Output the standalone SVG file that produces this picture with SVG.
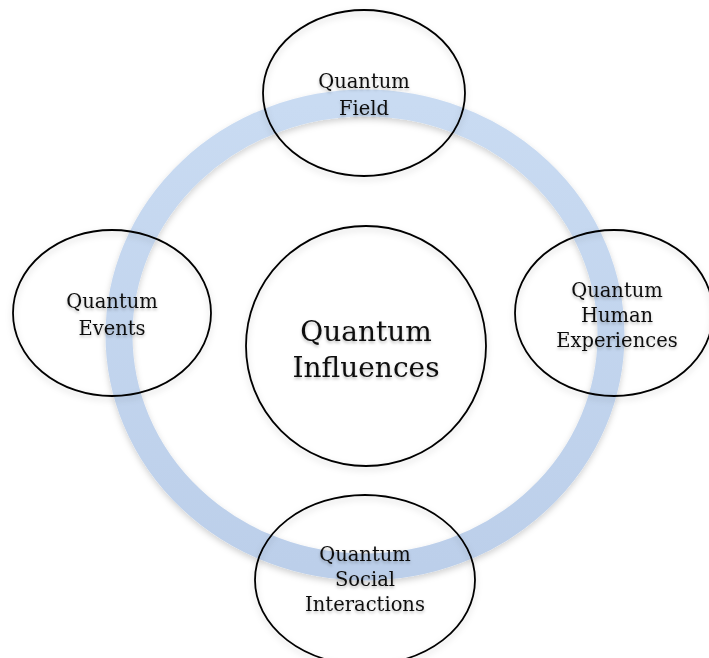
<svg xmlns="http://www.w3.org/2000/svg" width="709" height="658" viewBox="0 0 709 658">
  <defs>
    <linearGradient id="ringGrad" x1="0" y1="0" x2="0" y2="1">
      <stop offset="0" stop-color="#c9dbf2"/>
      <stop offset="1" stop-color="#bccfea"/>
    </linearGradient>
    <filter id="shadow" x="-10%" y="-10%" width="120%" height="120%">
      <feDropShadow dx="0" dy="3" stdDeviation="3" flood-color="#000" flood-opacity="0.18"/>
    </filter>
    <filter id="tshadow" x="-10%" y="-20%" width="120%" height="140%">
      <feDropShadow dx="0" dy="2" stdDeviation="1.5" flood-color="#000" flood-opacity="0.25"/>
    </filter>
  </defs>
  <style>
    .node { fill: none; stroke: #000; stroke-width: 1.8; filter: url(#shadow); }
    .lbl { font-family: "DejaVu Serif", "Liberation Serif", serif; font-size: 19.5px; fill: #111; text-anchor: middle; filter: url(#tshadow); }
    .big { font-size: 28px; }
  </style>
  <rect width="709" height="658" fill="#fff"/>
  <g id="connectors">
    <ellipse id="ring" cx="365" cy="335" rx="246" ry="232" fill="none" stroke="url(#ringGrad)" stroke-width="27" filter="url(#shadow)"/>
  </g>
  <g id="center">
    <circle class="node" cx="366" cy="346" r="120"/>
    <text class="lbl big" x="366" y="341">Quantum</text>
    <text class="lbl big" x="366" y="377">Influences</text>
  </g>
  <g id="field">
    <ellipse class="node" cx="364" cy="93" rx="101" ry="83"/>
    <text class="lbl" x="364" y="88">Quantum</text>
    <text class="lbl" x="364" y="115">Field</text>
  </g>
  <g id="events">
    <ellipse class="node" cx="112" cy="313" rx="99" ry="83"/>
    <text class="lbl" x="112" y="308">Quantum</text>
    <text class="lbl" x="112" y="335">Events</text>
  </g>
  <g id="human">
    <ellipse class="node" cx="614" cy="313" rx="99" ry="83"/>
    <text class="lbl" x="617" y="297">Quantum</text>
    <text class="lbl" x="617" y="322">Human</text>
    <text class="lbl" x="617" y="347">Experiences</text>
  </g>
  <g id="social">
    <ellipse class="node" cx="365" cy="580" rx="110" ry="85"/>
    <text class="lbl" x="365" y="561">Quantum</text>
    <text class="lbl" x="365" y="586">Social</text>
    <text class="lbl" x="365" y="611">Interactions</text>
  </g>
</svg>
